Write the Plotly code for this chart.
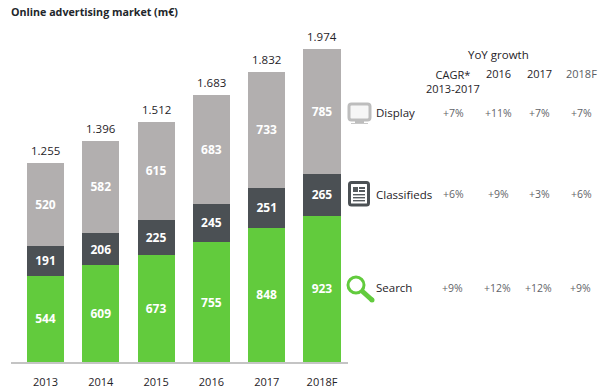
import plotly.graph_objects as go

years = ["2013", "2014", "2015", "2016", "2017", "2018F"]
search = [544, 609, 673, 755, 848, 923]
classifieds = [191, 206, 225, 245, 251, 265]
display = [520, 582, 615, 683, 733, 785]
totals = [1255, 1396, 1512, 1683, 1832, 1974]
total_labels = ["1.255", "1.396", "1.512", "1.683", "1.832", "1.974"]

growth_columns = ["CAGR*<br>2013-2017", "2016", "2017", "2018F"]
growth_rows = ["Display", "Classifieds", "Search"]
growth_display = ["+7%", "+11%", "+7%", "+7%"]
growth_classifieds = ["+6%", "+9%", "+3%", "+6%"]
growth_search = ["+9%", "+12%", "+12%", "+9%"]

GREEN = "#62cb3d"
DARK = "#4b5054"
GREY = "#b2afaf"
TXT = "#1f2328"
FONT = "Open Sans"
W, H = 612, 392
px = lambda x: x / W
py = lambda y: 1 - y / H

fig = go.Figure()
for name, vals, col in [("Search", search, GREEN), ("Classifieds", classifieds, DARK), ("Display", display, GREY)]:
    fig.add_trace(go.Bar(x=years, y=vals, name=name, marker=dict(color=col, line_width=0), width=0.67,
                         text=vals, textposition="inside", insidetextanchor="middle", constraintext="none",
                         textangle=0, textfont=dict(family=FONT, size=12, color="white", weight=700),
                         hoverinfo="skip"))

shapes, ann = [], []
for i, (t, lab) in enumerate(zip(totals, total_labels)):
    ann.append(dict(xref="x", yref="y", x=i, y=t, text=lab, showarrow=False, yanchor="bottom", yshift=3,
                    font=dict(family=FONT, size=11.5, color=TXT)))

def note(x, y, t, size=11, color=TXT, bold=False, anchor="center"):
    ann.append(dict(xref="paper", yref="paper", x=px(x), y=py(y), text=f"<b>{t}</b>" if bold else t, showarrow=False,
                    xanchor=anchor, yanchor="middle", align="center",
                    font=dict(family=FONT, size=size, color=color)))

note(9, 12, "Online advertising market (m€)", size=10.7, color="#22262b", bold=True, anchor="left")
note(498, 55, "YoY growth", size=11.5)

col_x = [453, 498, 539, 581]
for i, (c, x) in enumerate(zip(growth_columns, col_x)):
    if i == 0:
        note(x, 81.5, c, size=11)
    else:
        note(x, 74, c, size=11, color="#5a5d62" if i == 3 else TXT)

row_y = [113, 194, 287.5]
for name, y, vals in zip(growth_rows, row_y, [growth_display, growth_classifieds, growth_search]):
    note(374, y, name, size=11.5, anchor="left")
    for v, x in zip(vals, col_x):
        note(x - (1 if name == "Search" else 0), y, v, size=10.5, color="#5f6368")

def rect(x0, y0, x1, y1, fill, line=None, lw=0):
    shapes.append(dict(type="rect", xref="paper", yref="paper", x0=px(x0), x1=px(x1), y0=py(y0), y1=py(y1),
                       fillcolor=fill, line=dict(color=line or fill, width=lw)))

def rrect(x0, y0, x1, y1, r, fill, line, lw):
    X = lambda v: f"{px(v):.5f}"
    Y = lambda v: f"{py(v):.5f}"
    p = (f"M{X(x0+r)},{Y(y0)} L{X(x1-r)},{Y(y0)} Q{X(x1)},{Y(y0)} {X(x1)},{Y(y0+r)} "
         f"L{X(x1)},{Y(y1-r)} Q{X(x1)},{Y(y1)} {X(x1-r)},{Y(y1)} "
         f"L{X(x0+r)},{Y(y1)} Q{X(x0)},{Y(y1)} {X(x0)},{Y(y1-r)} "
         f"L{X(x0)},{Y(y0+r)} Q{X(x0)},{Y(y0)} {X(x0+r)},{Y(y0)} Z")
    shapes.append(dict(type="path", xref="paper", yref="paper", path=p, fillcolor=fill, line=dict(color=line, width=lw)))

# Display icon: monitor
rrect(349, 104, 370, 120, 2.5, "#f6f6f6", "#bdbdbd", 3)
rect(355, 121, 364, 123, "#bdbdbd")
rect(351, 123, 368, 124, "#c8c8c8")
# Classifieds icon: newspaper
rrect(349.5, 182.5, 368.5, 205, 2, "white", DARK, 3)
rect(353, 187, 358, 192, "#555a5e")
rect(359, 187, 365, 189, "#555a5e")
rect(359, 190, 365, 192, "#555a5e")
for y in (194, 197, 200):
    rect(353, y, 365, y + 1.4, "#555a5e")
# Search icon: magnifier
shapes.append(dict(type="circle", xref="paper", yref="paper", x0=px(348), x1=px(364), y0=py(277), y1=py(293),
                   fillcolor="white", line=dict(color=GREEN, width=3)))
shapes.append(dict(type="line", xref="paper", yref="paper", x0=px(362), x1=px(372), y0=py(291), y1=py(300),
                   line=dict(color=GREEN, width=5)))
shapes.append(dict(type="circle", xref="paper", yref="paper", x0=px(369.5), x1=px(374.5), y0=py(297.5), y1=py(302.5),
                   fillcolor=GREEN, line=dict(width=0)))

fig.update_layout(
    width=W, height=H, barmode="stack", showlegend=False, bargap=0.33,
    paper_bgcolor="white", plot_bgcolor="white", margin=dict(l=0, r=0, t=0, b=0),
    shapes=shapes, annotations=ann,
    xaxis=dict(domain=[px(11), px(348)], range=[-0.624, 5.47], type="category", showgrid=False, ticks="",
               showline=True, linecolor="#c4c4c4", linewidth=2, tickfont=dict(family=FONT, size=11, color=TXT),
               fixedrange=True, ticklabelstandoff=9),
    yaxis=dict(domain=[py(362), 1], range=[0, 362 / 0.1585], visible=False, fixedrange=True),
)
fig.write_html("out.html", config={"displayModeBar": False, "responsive": False},
               post_script="document.body.style.margin='0';")
